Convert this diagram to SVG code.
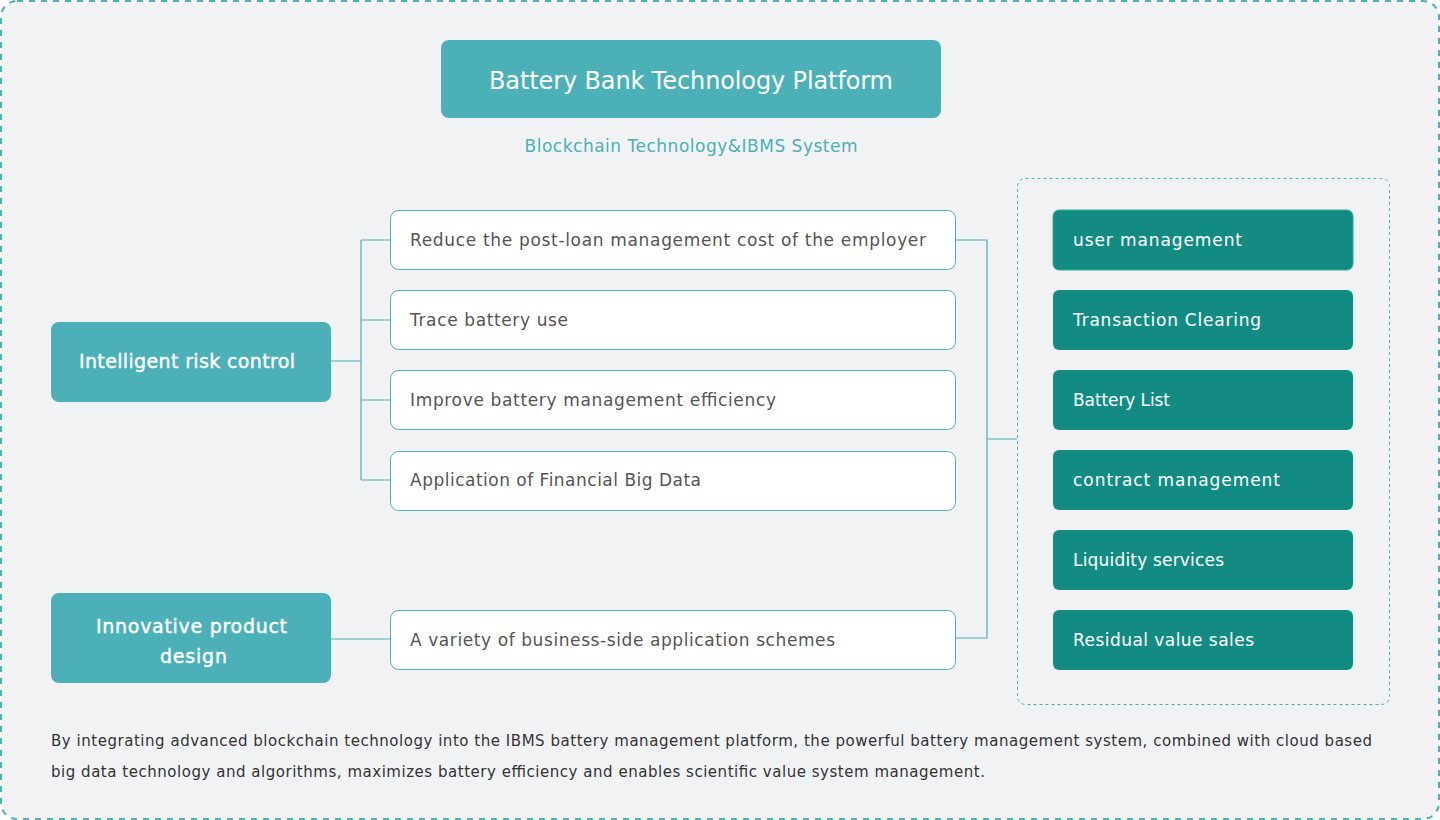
<svg xmlns="http://www.w3.org/2000/svg" width="1440" height="820" viewBox="0 0 1440 820">
<style>
text{font-family:"DejaVu Sans","Noto Sans",sans-serif}
.hd{fill:#4bb0b8}
.w{fill:#fff}
.mid{fill:#ffffff;stroke:#4bb0b8;stroke-width:1}
.mt{fill:#555;font-size:17px}
.rb{fill:#128c82}
.rt{fill:#fff;font-size:17px}
.lt{fill:#fff;font-size:19px;text-anchor:middle;stroke:#fff;stroke-width:0.4}
.cn{fill:none;stroke:#4bb0b8;stroke-width:1.2}
.ft{fill:#333;font-size:15px}
</style>
<rect x="1" y="1" width="1438" height="818" rx="16" fill="#f1f2f4" stroke="#4bb0b8" stroke-width="2" stroke-dasharray="6 6"/>
<g id="title">
<rect class="hd" x="441" y="40" width="500" height="78" rx="8"/>
<text x="691" y="89" class="w" font-size="24" text-anchor="middle" textLength="404">Battery Bank Technology Platform</text>
</g>
<g id="subtitle">
<text x="691" y="152" fill="#4bb0b8" font-size="17" text-anchor="middle" textLength="333">Blockchain Technology&amp;IBMS System</text>
</g>
<g id="connectors">
<path class="cn" d="M331 361H361M361 240V480M361 240H390M361 320H390M361 400H390M361 480H390M331 639H390"/>
<path class="cn" d="M956 240H987V638H956M987 439H1017"/>
</g>
<g id="risk">
<rect class="hd" x="51" y="322" width="280" height="80" rx="8"/>
<text x="187" y="368" class="lt" textLength="216">Intelligent risk control</text>
</g>
<g id="innov">
<rect class="hd" x="51" y="593" width="280" height="90" rx="8"/>
<text x="191.5" y="633" class="lt" textLength="191">Innovative product</text>
<text x="193.5" y="663" class="lt" textLength="67">design</text>
</g>
<g id="m1"><rect class="mid" x="390.5" y="210.5" width="565" height="59" rx="8"/><text x="410" y="246" class="mt" textLength="516">Reduce the post-loan management cost of the employer</text></g>
<g id="m2"><rect class="mid" x="390.5" y="290.5" width="565" height="59" rx="8"/><text x="410" y="326" class="mt" textLength="158">Trace battery use</text></g>
<g id="m3"><rect class="mid" x="390.5" y="370.5" width="565" height="59" rx="8"/><text x="410" y="406" class="mt" textLength="366">Improve battery management efficiency</text></g>
<g id="m4"><rect class="mid" x="390.5" y="451.5" width="565" height="59" rx="8"/><text x="410" y="486" class="mt" textLength="291">Application of Financial Big Data</text></g>
<g id="m5"><rect class="mid" x="390.5" y="610.5" width="565" height="59" rx="8"/><text x="410" y="646" class="mt" textLength="425">A variety of business-side application schemes</text></g>
<g id="container">
<rect x="1017.5" y="178.5" width="372" height="526" rx="8" fill="none" stroke="#4bb0b8" stroke-width="1" stroke-dasharray="3 3"/>
</g>
<g id="r1"><rect class="rb" x="1053" y="210" width="300" height="60" rx="6" stroke="#3aa89f" stroke-width="1"/><text x="1073" y="246" class="rt" textLength="169">user management</text></g>
<g id="r2"><rect class="rb" x="1053" y="290" width="300" height="60" rx="6"/><text x="1073" y="326" class="rt" textLength="188">Transaction Clearing</text></g>
<g id="r3"><rect class="rb" x="1053" y="370" width="300" height="60" rx="6"/><text x="1073" y="406" class="rt" textLength="97">Battery List</text></g>
<g id="r4"><rect class="rb" x="1053" y="450" width="300" height="60" rx="6"/><text x="1073" y="486" class="rt" textLength="207">contract management</text></g>
<g id="r5"><rect class="rb" x="1053" y="530" width="300" height="60" rx="6"/><text x="1073" y="566" class="rt" textLength="151">Liquidity services</text></g>
<g id="r6"><rect class="rb" x="1053" y="610" width="300" height="60" rx="6"/><text x="1073" y="646" class="rt" textLength="181">Residual value sales</text></g>
<g id="footer">
<text x="51" y="746" class="ft" textLength="1321">By integrating advanced blockchain technology into the IBMS battery management platform, the powerful battery management system, combined with cloud based</text>
<text x="51" y="777" class="ft" textLength="934">big data technology and algorithms, maximizes battery efficiency and enables scientific value system management.</text>
</g>
</svg>
